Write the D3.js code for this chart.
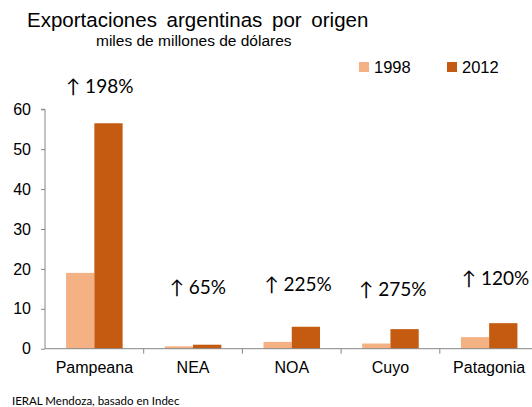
<!DOCTYPE html>
<html>
<head>
<meta charset="utf-8">
<script src="https://cdn.jsdelivr.net/npm/d3@7"></script>
<style>
  body { margin: 0; background: #fff; }
  svg { display: block; }
  .axis path, .axis line { stroke: #868686; }
  .axis text { font: 16px "Liberation Sans", Arial, sans-serif; fill: #000; }
</style>
</head>
<body>
<svg width="532" height="407"></svg>
<script>
// data
var regions = ['Pampeana', 'NEA', 'NOA', 'Cuyo', 'Patagonia'];
var years = ['1998', '2012'];
var values1998 = [19.0, 0.6, 1.7, 1.3, 2.9];
var values2012 = [56.5, 1.0, 5.5, 4.9, 6.4];
var growthLabels = ['\u2191 198%', '\u2191 65%', '\u2191 225%', '\u2191 275%', '\u2191 120%'];
// label height in data units (hand placed in the original)
var growthY = [65.8, 15.5, 16.1, 14.9, 17.6];
var yTicks = [0, 10, 20, 30, 40, 50, 60];
var colors = ['#F4B183', '#C55A11'];

var svg = d3.select('svg');

var padding = { t: 109.3, l: 45, b: 348.7 };
var bandW = 98.7;

var y = d3.scaleLinear().domain([0, 60]).range([padding.b, padding.t]);
var x = d3.scaleBand().domain(regions)
    .range([padding.l, padding.l + bandW * regions.length]);
var xIn = d3.scaleBand().domain(years)
    .range([0, bandW]).paddingOuter(0.7455).paddingInner(0);

var color = d3.scaleOrdinal().domain(years).range(colors);

var table = regions.map(function(r, i) {
    return { region: r, vals: [values1998[i], values2012[i]], label: growthLabels[i], ly: growthY[i] };
});

// titles
svg.append('text')
    .attr('x', 27).attr('y', 26.5)
    .style('font', '20.5px "Liberation Sans", Arial, sans-serif')
    .style('word-spacing', '4px')
    .text('Exportaciones argentinas por origen');
svg.append('text')
    .attr('x', 96).attr('y', 45.5)
    .style('font', '15.5px "Liberation Sans", Arial, sans-serif')
    .text('miles de millones de dólares');

// bars
var groups = svg.selectAll('.grp')
    .data(table)
    .enter().append('g')
    .attr('class', 'grp')
    .attr('transform', function(d) { return 'translate(' + x(d.region) + ',0)'; });

groups.selectAll('rect')
    .data(function(d) { return d.vals.map(function(v, i) { return { year: years[i], v: v }; }); })
    .enter().append('rect')
    .attr('x', function(d) { return xIn(d.year); })
    .attr('y', function(d) { return y(d.v); })
    .attr('width', xIn.bandwidth())
    .attr('height', function(d) { return y(0) - y(d.v); })
    .style('fill', function(d) { return color(d.year); });

// axes
svg.append('g').attr('class', 'axis')
    .attr('transform', 'translate(' + padding.l + ',0)')
    .call(d3.axisLeft(y).tickValues(yTicks).tickSize(4).tickSizeOuter(4).tickPadding(10))
    .select('.domain').attr('d', 'M-4,' + y(60) + 'H0V' + y(0));

var xAxis = svg.append('g').attr('class', 'axis')
    .attr('transform', 'translate(0,' + y(0) + ')')
    .call(d3.axisBottom(x).tickSize(0).tickPadding(13));
xAxis.select('.domain').attr('d', 'M' + padding.l + ',0H532');
xAxis.selectAll('.sep')
    .data(regions.slice(1))
    .enter().append('line')
    .attr('x1', function(d) { return x(d); })
    .attr('x2', function(d) { return x(d); })
    .attr('y1', 0).attr('y2', 5)
    .style('stroke', '#868686');

// growth labels
var labelDx = [21, 26, 22, 18, 22];
svg.selectAll('.growth')
    .data(table)
    .enter().append('text')
    .attr('class', 'growth')
    .attr('x', function(d, i) { return x(d.region) + labelDx[i]; })
    .attr('y', function(d) { return y(d.ly); })
    .attr('dy', '0.35em')
    .style('font', '19px Lato, "Open Sans", sans-serif')
    .text(function(d) { return d.label; });

// legend
var legend = svg.selectAll('.leg')
    .data(years)
    .enter().append('g')
    .attr('class', 'leg')
    .attr('transform', function(d, i) { return 'translate(' + (359 + i * 88) + ',62)'; });
legend.append('rect')
    .attr('width', 10).attr('height', 10)
    .style('fill', function(d) { return color(d); });
legend.append('text')
    .attr('x', 15).attr('y', 5).attr('dy', '0.35em')
    .style('font', '16.5px "Liberation Sans", Arial, sans-serif')
    .text(function(d) { return d; });

// source
svg.append('text')
    .attr('x', 12).attr('y', 405)
    .style('font', '11.5px Lato, "Open Sans", sans-serif')
    .text('IERAL Mendoza, basado en Indec');
</script>
</body>
</html>
